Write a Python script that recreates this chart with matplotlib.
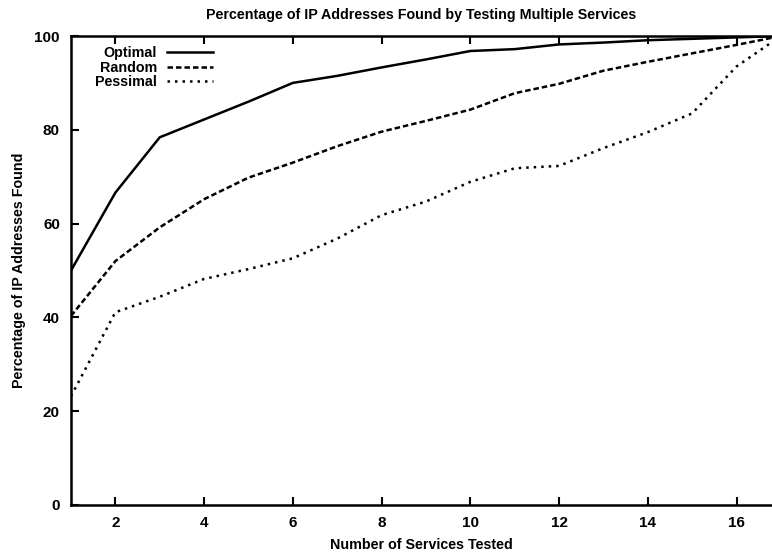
import matplotlib
matplotlib.use("Agg")
import matplotlib.pyplot as plt

services = list(range(1, 18))
optimal = [50.0, 66.6, 78.4, 82.2, 86.0, 90.0, 91.5, 93.3, 95.0, 96.8, 97.2, 98.2, 98.6, 99.1, 99.4, 99.7, 100.0]
random_ = [40.3, 52.0, 59.2, 65.2, 69.8, 73.0, 76.5, 79.6, 81.9, 84.3, 87.8, 89.8, 92.6, 94.5, 96.3, 98.1, 100.0]
pessimal = [23.2, 41.1, 44.4, 48.2, 50.3, 52.6, 56.8, 61.8, 64.7, 68.9, 71.8, 72.3, 76.1, 79.5, 83.5, 93.5, 100.0]
xticks = [2, 4, 6, 8, 10, 12, 14, 16]
yticks = [0, 20, 40, 60, 80, 100]

plt.rcParams['font.family'] = ['Liberation Sans', 'DejaVu Sans']
plt.rcParams['font.weight'] = 'bold'

W, H = 772, 554
fig = plt.figure(figsize=(W / 100, H / 100), dpi=100)
left, right, top, bottom = 71, 772, 36, 505
ax = fig.add_axes([left / W, (H - bottom) / H, (right - left) / W, (bottom - top) / H])

lw = 1.8
ax.plot(services, optimal, color='black', lw=lw, label='Optimal')
ax.plot(services, random_, color='black', lw=lw, dashes=(2.2, 1.2), label='Random')
ax.plot(services, pessimal, color='black', lw=lw, dashes=(1.0, 2.0), label='Pessimal')

ax.set_xlim(1, 16.8)
ax.set_ylim(0, 100)
ax.set_xticks(xticks)
ax.set_yticks(yticks)
ax.tick_params(direction='in', length=6, width=1.5, top=True, labelsize=11, pad=8)
for s in ['left', 'bottom', 'top']:
    ax.spines[s].set_linewidth(1.8)
ax.spines['right'].set_visible(False)

ax.set_title('Percentage of IP Addresses Found by Testing Multiple Services',
             fontsize=10.3, fontweight='bold', pad=12)
ax.set_xlabel('Number of Services Tested', fontsize=10.3, fontweight='bold', labelpad=6)
ax.set_ylabel('Percentage of IP Addresses Found', fontsize=10.3, fontweight='bold', labelpad=6)

leg = ax.legend(loc='upper left', frameon=False, markerfirst=False,
                prop={'size': 10.3, 'weight': 'bold'},
                handlelength=3.2, labelspacing=0.05, handletextpad=0.7,
                borderaxespad=0.3, bbox_to_anchor=(0.02, 1.0))
for t in leg.get_texts():
    t.set_ha('right')

fig.savefig('out.png', dpi=100)
